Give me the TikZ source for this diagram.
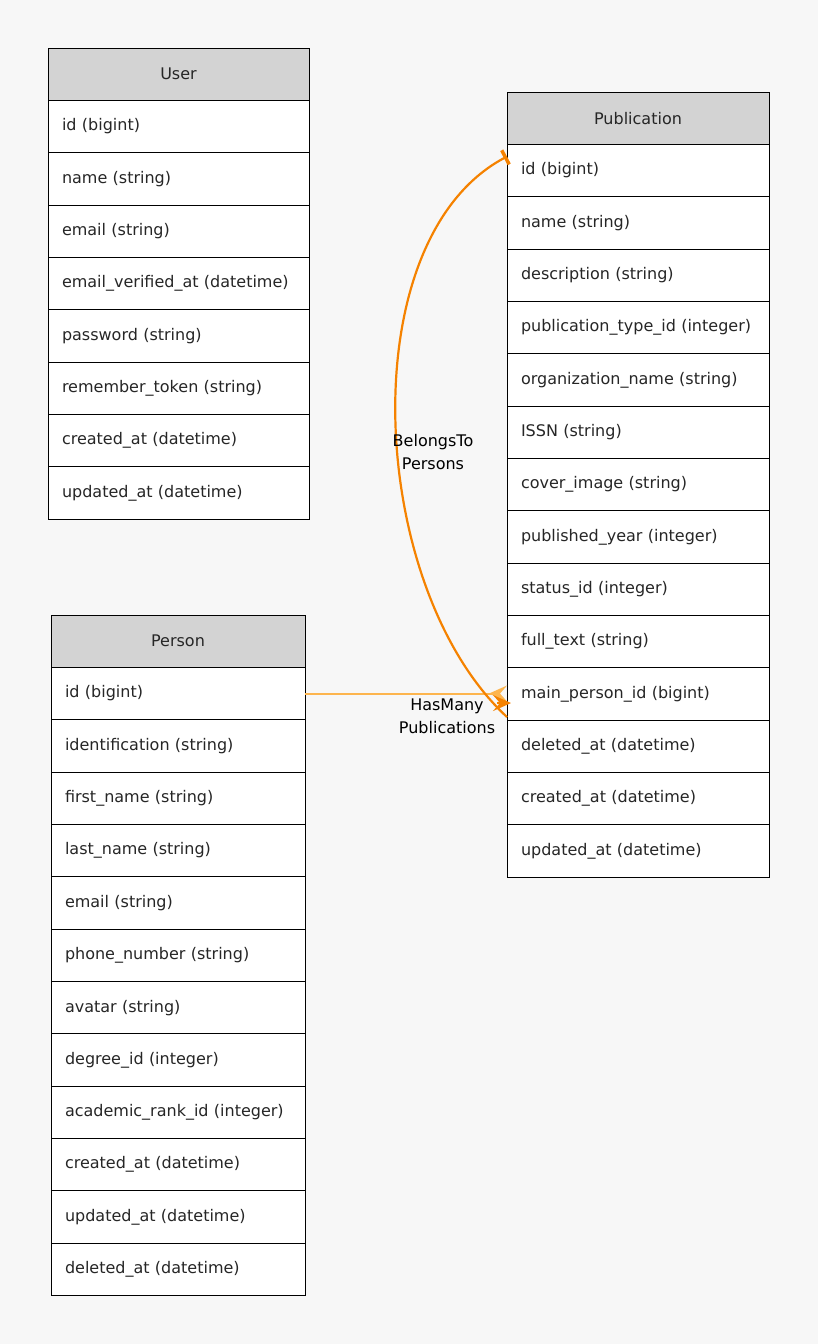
\documentclass[tikz,border=0pt]{standalone}
\usepackage{fontspec}
\setmainfont{DejaVu Sans}
\usetikzlibrary{arrows.meta,positioning}
\definecolor{bgcol}{HTML}{F7F7F7}
\definecolor{headgray}{HTML}{D3D3D3}
\definecolor{txtgray}{HTML}{262626}
\definecolor{darkorange}{HTML}{F58200}
\definecolor{lightorange}{HTML}{FDB54E}
\newcommand{\rowh}{52.35pt}
\newcommand{\tabfont}{\fontsize{16}{19}\selectfont}

\tikzset{
  tabhead/.style={draw, line width=1pt, fill=headgray, text=txtgray, font=\tabfont,
    minimum height=\rowh, outer sep=0pt, inner sep=0pt},
  tabfield/.style={draw, line width=1pt, fill=white, text=txtgray, font=\tabfont,
    minimum height=\rowh, outer sep=0pt, inner xsep=14pt, inner ysep=0pt, align=left},
  rellabel/.style={font=\fontsize{16}{23}\selectfont, align=center, inner sep=0pt},
  reltip/.tip={Stealth[length=18pt, width=16pt, inset=7pt]},
}

\begin{document}
\begin{tikzpicture}[x=1pt,y=-1pt]

      %% canvas
      \fill[bgcol] (0,0) rectangle (818,1344);
      \useasboundingbox (0,0) rectangle (818,1344);

          %% ``User'' table, top left
      \node (user-0) at (48,48) [tabhead, anchor=north west, minimum width=261pt] {User};
      \foreach \f [count=\i] in {id (bigint), name (string), email (string),
        email\_verified\_at (datetime), password (string), remember\_token (string),
        created\_at (datetime), updated\_at (datetime)}
      { \pgfmathtruncatemacro\j{\i-1}
        \node (user-\i) [tabfield, below=0pt of user-\j, text width=233pt] {\f};}

          %% ``Person'' table, bottom left
      \node (person-0) at (51,615) [tabhead, anchor=north west, minimum width=254pt] {Person};
      \foreach \f [count=\i] in {id (bigint), identification (string), first\_name (string),
        last\_name (string), email (string), phone\_number (string), avatar (string),
        degree\_id (integer), academic\_rank\_id (integer), created\_at (datetime),
        updated\_at (datetime), deleted\_at (datetime)}
      { \pgfmathtruncatemacro\j{\i-1}
        \node (person-\i) [tabfield, below=0pt of person-\j, text width=226pt] {\f};}

          %% ``Publication'' table, right
      \node (pub-0) at (507,92) [tabhead, anchor=north west, minimum width=262pt] {Publication};
      \foreach \f [count=\i] in {id (bigint), name (string), description (string),
        publication\_type\_id (integer), organization\_name (string), ISSN (string),
        cover\_image (string), published\_year (integer), status\_id (integer),
        full\_text (string), main\_person\_id (bigint), deleted\_at (datetime),
        created\_at (datetime), updated\_at (datetime)}
      { \pgfmathtruncatemacro\j{\i-1}
        \node (pub-\i) [tabfield, below=0pt of pub-\j, text width=234pt] {\f};}

          %% relations
      \draw[lightorange, line width=2pt, -{reltip[reversed]}]
        (person-1.east) -- (person-1.east -| pub-11.west);
      \draw[darkorange, line width=2.2pt, {Bar[width=16pt, line width=3.5pt]}-]
        ([yshift=14pt]pub-1.west) .. controls +(-157,83) and +(-140,-130) .. ([yshift=-23pt]pub-11.west);
      \draw[darkorange, line width=2.2pt, -{reltip}]
        ([xshift=-10pt,yshift=-9pt]pub-11.west) -- ([xshift=4pt,yshift=-9pt]pub-11.west);

      \node (belongs) at (433,452) [rellabel] {BelongsTo\\Persons};
      \node (hasmany) at (447,716) [rellabel] {HasMany\\Publications};

\end{tikzpicture}
\end{document}
